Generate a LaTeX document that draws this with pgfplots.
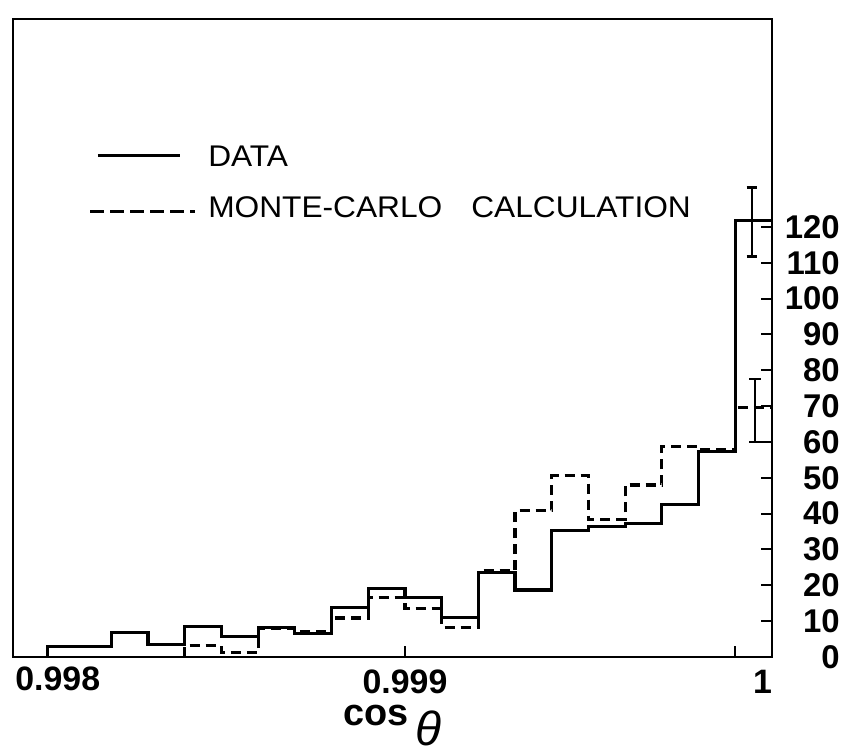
\documentclass[border=0pt]{standalone}
\usepackage{pgfplots}
\pgfplotsset{compat=1.18}
\usepackage{fontspec}
\setmainfont{Liberation Sans}
\newfontfamily\legendfont[FakeStretch=1.06]{Liberation Sans}

\begin{document}
\begin{tikzpicture}
% page = 841x754 px at 0.5bp per px, axis box lower left at px (13,657)
\useasboundingbox (-6.5bp,-48.5bp) rectangle (414bp,328.5bp);
\begin{axis}[
    scale only axis,
    width=379.5bp, height=319bp,
    % x in steps of 0.0001 counted from cos theta = 0.998
    xmin=-0.68, xmax=20,
    ymin=0, ymax=178,
    clip=false,
    axis line style={line width=1.4bp},
    xtick={10,20},
    xticklabels={0.999,{\makebox[0pt][r]{1}}},
    extra x ticks={19},
    extra x tick labels={},
    ytick={0,10,...,120},
    xtick pos=bottom,
    ytick pos=right,
    yticklabel pos=right,
    tick align=inside,
    major tick length=5.5bp,
    tick style={line width=1bp, black},
    /pgf/number format/assume math mode=true,
    xticklabel style={font=\fontsize{17}{17}\selectfont\bfseries, anchor=base, inner sep=0pt, yshift=-18bp},
    yticklabel style={font=\fontsize{16.5}{16.5}\selectfont\bfseries, anchor=east, inner sep=0pt, xshift=34bp},
    xlabel={{\bfseries cos}\,\raisebox{-10bp}{\fontsize{24}{24}\selectfont\mdseries\itshape θ}},
    xlabel style={font=\fontsize{19}{19}\selectfont, at={(axis description cs:0.5,0)}, anchor=base, inner sep=0pt, yshift=-34bp},
]

% DATA
\addplot[const plot mark left, line width=1.6bp, black] coordinates {
    (0.27,0)(0.27,2.9)(2,6.8)(3,3.4)(4,8.4)(5,5.8)(6,8.3)(7,6.6)(8,13.7)(9,19.2)
    (10,16.7)(11,11.0)(12,23.5)(13,18.7)(14,35.3)(15,36.4)(16,37.3)(17,42.5)(18,57.4)
    (19,121.8)(20,121.8)
};
% MONTE-CARLO
\addplot[const plot mark left, line width=1.6bp, black, dash pattern=on 5bp off 3bp] coordinates {
    (4,0)(4,3.1)(5,1.2)(6,7.9)(7,7.2)(8,10.9)(9,16.6)
    (10,13.5)(11,8.2)(12,24.1)(13,40.8)(14,50.6)(15,38.3)(16,48)(17,58.7)(18,57.8)
    (19,69.6)(20,69.6)
};
% error bars, last bin
\addplot[line width=1.2bp, black, unbounded coords=jump] coordinates {
    (19.45,111.7)(19.45,131.0)(19.45,nan)
    (19.31,131.0)(19.59,131.0)(19.45,nan)
    (19.31,111.7)(19.59,111.7)(19.45,nan)
    (19.54,60.0)(19.54,77.6)(19.54,nan)
    (19.38,77.6)(19.70,77.6)(19.54,nan)
    (19.38,60.0)(19.70,60.0)
};

% legend
\draw[line width=1.5bp] (axis cs:1.63,139.9) -- (axis cs:3.87,139.9);
\node[anchor=base west, inner sep=0pt, font=\fontsize{15}{15}\legendfont] at (axis cs:4.63,136.9) {DATA};
\draw[line width=1.5bp, dash pattern=on 7bp off 3bp] (axis cs:1.42,124.3) -- (axis cs:4.28,124.3);
\node[anchor=base west, inner sep=0pt, font=\fontsize{15}{15}\legendfont] at (axis cs:4.63,122.6) {MONTE-CARLO\hspace{14.5bp}CALCULATION};

\node[anchor=base west, inner sep=0pt, xshift=1bp, yshift=-16.5bp, font=\fontsize{17}{17}\selectfont\bfseries] at (rel axis cs:0,0) {0.998};
\end{axis}
\end{tikzpicture}
\end{document}
